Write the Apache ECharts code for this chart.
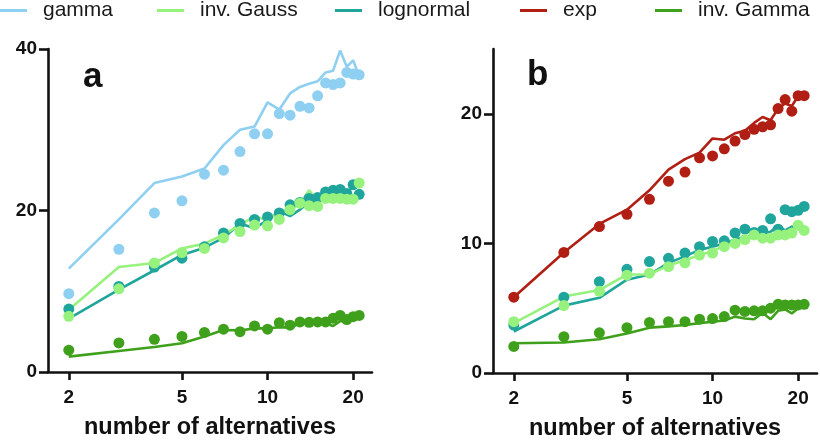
<!DOCTYPE html>
<html>
<head>
<meta charset="utf-8">
<script src="https://cdn.jsdelivr.net/npm/echarts@6/dist/echarts.min.js"></script>
<style>html,body{margin:0;padding:0;background:#fff}#c{width:820px;height:440px}</style>
</head>
<body>
<div id="c"></div>
<script>
// ---- data ----
const alternatives = [2,3,4,5,6,7,8,9,10,11,12,13,14,15,16,17,18,19,20,21];
const xTicks = [2,5,10,20];
const yTicksA = [0,20,40];
const yTicksB = [0,10,20];
const legendNames = ['gamma','inv. Gauss','lognormal','exp','inv. Gamma'];
const panelLabels = ['a','b'];
const xTitle = 'number of alternatives';

// panel a
const gammaDotsA = [9.7,15.2,19.7,21.2,24.5,25.0,27.3,29.5,29.5,32.0,31.8,32.9,32.7,34.2,35.8,35.6,35.8,37.1,36.9,36.8];
const gammaLineA = [12.8,18.9,23.4,24.2,25.2,28.1,30.0,30.4,33.4,32.5,34.5,35.3,35.7,36.0,37.1,37.3,39.8,37.8,38.6,36.6];
const lognDotsA = [7.8,10.6,13.0,14.1,15.5,17.2,18.4,18.9,19.2,19.7,20.7,21.0,21.5,21.6,22.3,22.5,22.6,22.1,23.2,22.0];
const lognLineA = [6.6,10.2,12.6,14.5,15.4,16.6,18.4,17.8,18.8,19.9,19.3,20.1,21.1,21.1,21.7,22.4,22.5,22.0,23.1,22.9];
const igaussDotsA = [6.9,10.3,13.5,14.8,15.3,16.6,17.4,18.2,18.1,18.9,20.1,20.9,20.6,20.5,21.5,21.5,21.5,21.4,21.4,23.4];
const igaussLineA = [7.7,13.0,13.5,15.3,15.9,17.0,18.2,19.3,18.8,19.9,20.1,20.8,22.5,21.1,21.9,22.0,21.7,21.4,21.5,21.8];
const igammaDotsA = [2.7,3.6,4.05,4.4,4.9,5.3,5.0,5.7,5.3,6.1,5.8,6.2,6.15,6.2,6.2,6.65,7.0,6.5,6.85,7.0];
const igammaLineA = [1.9,2.6,3.1,3.55,4.4,5.2,5.15,5.4,5.4,5.55,5.5,6.0,6.0,6.0,6.0,5.7,6.3,6.3,6.5,6.9];

// panel b
const expDotsB = [5.85,9.3,11.3,12.25,13.4,14.8,15.5,16.6,16.75,17.3,17.9,18.4,18.8,19.0,19.15,20.4,21.1,20.2,21.4,21.4];
const expLineB = [5.85,9.3,11.5,12.6,14.1,15.7,16.5,17.0,18.1,18.0,18.5,18.7,19.3,19.75,19.5,20.4,20.8,20.6,21.35,21.35];
const lognDotsB = [3.7,5.85,7.05,8.0,8.6,8.85,9.25,9.75,10.15,10.2,10.8,11.1,10.85,11.0,11.9,11.1,12.6,12.45,12.55,12.85];
const lognLineB = [3.2,5.2,5.8,7.2,7.6,8.5,9.0,9.5,9.75,10.0,10.3,10.5,10.65,10.8,10.9,11.4,11.0,11.3,11.1,11.2];
const igaussDotsB = [3.96,5.2,6.3,7.55,7.7,8.2,8.5,9.1,9.25,9.75,10.0,10.3,10.65,10.4,10.4,10.65,10.65,10.8,11.4,11.0];
const igaussLineB = [3.85,5.9,6.4,7.6,7.6,8.3,8.7,9.1,9.4,9.8,10.1,10.3,10.5,10.4,10.2,10.6,10.6,10.8,11.6,11.3];
const igammaDotsB = [2.05,2.8,3.1,3.5,3.9,3.96,3.96,4.15,4.2,4.35,4.85,4.75,4.8,4.8,5.0,5.3,5.25,5.25,5.25,5.3];
const igammaLineB = [2.3,2.35,2.6,3.05,3.5,3.6,3.7,3.85,3.96,4.05,4.35,4.2,4.15,4.65,4.15,4.8,4.9,4.6,5.0,5.2];

// ---- styling ----
const colors = {
  'gamma': '#8ECFF2',
  'inv. Gauss': '#97F17D',
  'lognormal': '#1FA59C',
  'exp': '#B01E14',
  'inv. Gamma': '#3FA11B'
};
const FONT = 'Liberation Sans, Arial, sans-serif';
const AX = '#111';
const xMin = 1.69, xMax = 23.3;
const lg = Math.log10;

function pairs(vals){ return alternatives.map((n,i)=>[lg(n), vals[i]]); }
function lineS(name, vals, idx){
  return {name, type:'line', xAxisIndex:idx, yAxisIndex:idx, data:pairs(vals),
    showSymbol:false, symbol:'none', z:2,
    lineStyle:{color:colors[name], width:2.6}, itemStyle:{color:colors[name]}};
}
function dotS(name, vals, idx){
  return {name, type:'scatter', xAxisIndex:idx, yAxisIndex:idx, data:pairs(vals),
    symbol:'circle', symbolSize:11, z:3, itemStyle:{color:colors[name], opacity:1}};
}
function xAxis(idx){
  return {gridIndex:idx, type:'value', min:lg(xMin), max:lg(xMax),
    name:xTitle, nameLocation:'middle', nameGap:44,
    nameTextStyle:{fontFamily:FONT, fontWeight:'bold', fontSize:23.5, color:AX},
    axisLine:{lineStyle:{color:AX, width:2.6}},
    axisTick:{customValues:xTicks.map(lg), length:8, lineStyle:{color:AX, width:2.6}},
    axisLabel:{customValues:xTicks.map(lg), margin:16, fontFamily:FONT, fontWeight:'bold', fontSize:19, color:AX,
      formatter:v=>String(Math.round(Math.pow(10,v)))},
    splitLine:{show:false}};
}
function yAxis(idx, max, ticks){
  return {gridIndex:idx, type:'value', min:0, max:max,
    axisLine:{show:true, lineStyle:{color:AX, width:2.6}},
    axisTick:{show:true, customValues:ticks, length:9, lineStyle:{color:AX, width:2.6}},
    axisLabel:{customValues:ticks, margin:11, fontFamily:FONT, fontWeight:'bold', fontSize:19, color:AX},
    splitLine:{show:false}};
}
const legendLeft = [0,157,335,520,655];
const legends = legendNames.map((nm,i)=>({
  left:legendLeft[i], top:0, padding:0, data:[nm], icon:'rect', itemWidth:27, itemHeight:3,
  selectedMode:false,
  textStyle:{fontFamily:FONT, fontSize:21, color:'#1a1a1a', padding:[0,0,0,11]}
}));

const option = {
  animation:false,
  backgroundColor:'#fff',
  legend: legends,
  grid:[
    {left:48, top:49, width:324, height:323, containLabel:false, outerBoundsMode:'none'},
    {left:493, top:49, width:324, height:324, containLabel:false, outerBoundsMode:'none'}
  ],
  xAxis:[xAxis(0), xAxis(1)],
  yAxis:[yAxis(0,40,yTicksA), yAxis(1,25,yTicksB)],
  graphic:[
    {type:'text', left:83, top:60, style:{text:panelLabels[0], font:'bold 35px '+FONT, fill:'#111'}},
    {type:'text', left:527, top:58, style:{text:panelLabels[1], font:'bold 35px '+FONT, fill:'#111'}}
  ],
  series:[
    lineS('gamma', gammaLineA, 0),
    lineS('lognormal', lognLineA, 0),
    lineS('inv. Gauss', igaussLineA, 0),
    lineS('inv. Gamma', igammaLineA, 0),
    dotS('gamma', gammaDotsA, 0),
    dotS('lognormal', lognDotsA, 0),
    dotS('inv. Gauss', igaussDotsA, 0),
    dotS('inv. Gamma', igammaDotsA, 0),
    lineS('exp', expLineB, 1),
    lineS('lognormal', lognLineB, 1),
    lineS('inv. Gauss', igaussLineB, 1),
    lineS('inv. Gamma', igammaLineB, 1),
    dotS('exp', expDotsB, 1),
    dotS('lognormal', lognDotsB, 1),
    dotS('inv. Gauss', igaussDotsB, 1),
    dotS('inv. Gamma', igammaDotsB, 1)
  ]
};
const chart = echarts.init(document.getElementById('c'), null, {renderer:'canvas'});
chart.setOption(option);
</script>
</body>
</html>
